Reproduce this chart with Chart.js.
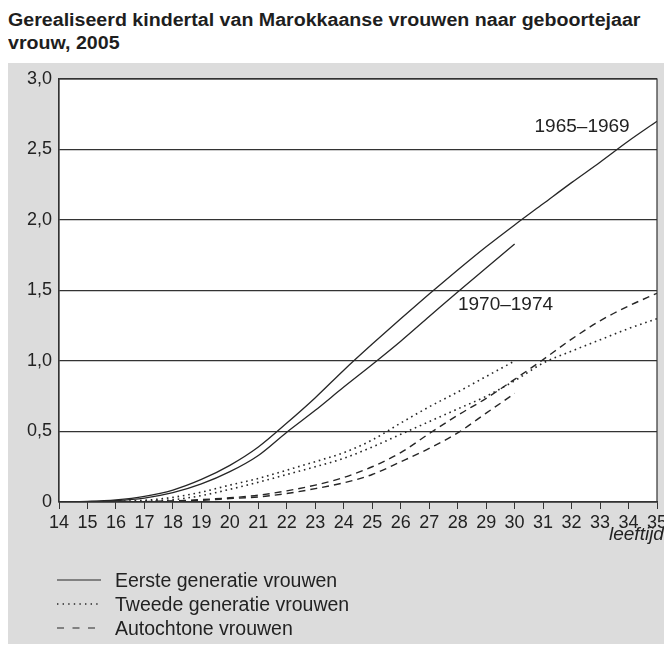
<!DOCTYPE html>
<html>
<head>
<meta charset="utf-8">
<script src="https://cdn.jsdelivr.net/npm/chart.js@4.4.1/dist/chart.umd.min.js"></script>
<style>
  html, body { margin: 0; padding: 0; background: #fff; overflow: hidden; width: 664px; height: 646px; }
  #title { position: absolute; left: 8px; top: 9px; font: bold 18px "Liberation Sans", Arial, sans-serif; line-height: 23px; color: #1e1e1e; white-space: nowrap; transform: scaleX(1.09); transform-origin: 0 0; }
  #panel { position: absolute; left: 8px; top: 63px; width: 700px; height: 581px; background: #dcdcdc; }
  #wrap { position: absolute; left: 0; top: 0; width: 700px; height: 646px; }
  #xlabel { position: absolute; left: 609px; top: 523px; font: italic 19px "Liberation Sans", Arial, sans-serif; color: #222; white-space: nowrap; }
  #legend { position: absolute; left: 57px; top: 568px; font: 19.5px "Liberation Sans", Arial, sans-serif; color: #222; }
  .row { height: 24px; display: flex; align-items: center; white-space: nowrap; }
  .row svg { width: 44px; height: 6px; margin-right: 14px; flex: none; }
</style>
</head>
<body>
<div id="title">Gerealiseerd kindertal van Marokkaanse vrouwen naar geboortejaar<br>vrouw, 2005</div>
<div id="panel"></div>
<div id="wrap"><canvas id="c" width="700" height="646"></canvas></div>
<div id="xlabel">leeftijd</div>
<div id="legend"></div>
<script>
// ---- data ----
const ages = [14,15,16,17,18,19,20,21,22,23,24,25,26,27,28,29,30,31,32,33,34,35];
// Eerste generatie vrouwen
const eerste6569 = [0,0.004,0.015,0.04,0.085,0.16,0.26,0.39,0.56,0.74,0.935,1.12,1.30,1.475,1.645,1.81,1.965,2.115,2.265,2.41,2.56,2.70];
const eerste7074 = [0,0.003,0.01,0.028,0.066,0.128,0.215,0.33,0.495,0.65,0.815,0.975,1.14,1.315,1.49,1.66,1.83];
// Tweede generatie vrouwen
const tweede6569 = [0,0,0.002,0.006,0.016,0.045,0.09,0.14,0.195,0.25,0.31,0.39,0.48,0.57,0.66,0.75,0.86,0.985,1.07,1.15,1.23,1.30];
const tweede7074 = [0,0,0.004,0.012,0.033,0.07,0.12,0.167,0.226,0.286,0.35,0.44,0.56,0.675,0.78,0.89,1.0];
// Autochtone vrouwen
const autochtoon6569 = [0,0,0,0.003,0.007,0.017,0.03,0.048,0.079,0.12,0.174,0.25,0.35,0.485,0.615,0.735,0.87,1.01,1.155,1.285,1.39,1.48];
const autochtoon7074 = [0,0,0,0.002,0.006,0.012,0.024,0.036,0.06,0.095,0.136,0.195,0.285,0.38,0.49,0.63,0.77];

const yTickLabels = ['0','0,5','1,0','1,5','2,0','2,5','3,0'];
const legendLabels = ['Eerste generatie vrouwen','Tweede generatie vrouwen','Autochtone vrouwen'];
const cohortLabels = ['1965–1969','1970–1974'];

// ---- styles ----
const ink = '#262626';
const lineStyles = [
  { dash: [], width: 1.3, svgDash: '' },
  { dash: [1.6, 3.8], width: 1.6, svgDash: '1.4 4.2' },
  { dash: [7, 5], width: 1.4, svgDash: '7 8.5' }
];

function pts(vals) { return vals.map((v, i) => ({ x: ages[i], y: v })); }
function ds(vals, style) {
  return {
    data: pts(vals), borderColor: ink, borderWidth: style.width, borderDash: style.dash,
    pointRadius: 0, fill: false, cubicInterpolationMode: 'monotone'
  };
}

const datasets = [
  ds(eerste6569, lineStyles[0]), ds(eerste7074, lineStyles[0]),
  ds(tweede6569, lineStyles[1]), ds(tweede7074, lineStyles[1]),
  ds(autochtoon6569, lineStyles[2]), ds(autochtoon7074, lineStyles[2])
];

const plotDeco = {
  id: 'plotDeco',
  beforeDraw(chart) {
    const { ctx, chartArea: a } = chart;
    ctx.save();
    ctx.fillStyle = '#ffffff';
    ctx.fillRect(a.left, a.top, a.right - a.left, a.bottom - a.top);
    ctx.restore();
  },
  afterDatasetsDraw(chart, args, opts) {
    const { ctx, chartArea: a, scales } = chart;
    ctx.save();
    ctx.strokeStyle = '#333';
    ctx.lineWidth = 1.2;
    ctx.strokeRect(a.left, a.top, a.right - a.left, a.bottom - a.top);
    ctx.fillStyle = '#222';
    ctx.font = '19px "Liberation Sans", Arial, sans-serif';
    ctx.textAlign = 'center';
    ctx.textBaseline = 'middle';
    opts.labels.forEach((l, i) => {
      ctx.fillText(cohortLabels[i], scales.x.getPixelForValue(l[0]), scales.y.getPixelForValue(l[1]));
    });
    ctx.restore();
  }
};

new Chart(document.getElementById('c'), {
  type: 'line',
  data: { datasets },
  options: {
    responsive: false,
    animation: false,
    devicePixelRatio: 1,
    layout: { padding: { left: 0, top: 79, right: 43, bottom: 114 } },
    plugins: {
      legend: { display: false },
      tooltip: { enabled: false },
      plotDeco: { labels: [[32.37, 2.66], [29.68, 1.40]] }
    },
    scales: {
      x: {
        type: 'linear', min: 14, max: 35,
        ticks: { stepSize: 1, autoSkip: false, maxRotation: 0, padding: 3, color: '#222',
                 font: { size: 18, family: '"Liberation Sans", Arial, sans-serif' } },
        grid: { display: true, drawOnChartArea: false, drawTicks: true, tickLength: 7, color: '#333', lineWidth: 1 },
        border: { display: true, color: '#333', width: 1.2 },
        afterFit(s) { s.height = 30; }
      },
      y: {
        min: 0, max: 3,
        ticks: { stepSize: 0.5, padding: 7, color: '#222',
                 font: { size: 18, family: '"Liberation Sans", Arial, sans-serif' },
                 callback: (v, i) => yTickLabels[i] },
        grid: { color: '#333', lineWidth: 1.2, drawTicks: false },
        border: { display: true, color: '#333', width: 1.2 },
        afterFit(s) { s.width = 59; }
      }
    }
  },
  plugins: [plotDeco]
});

// HTML legend
const legendEl = document.getElementById('legend');
legendLabels.forEach((txt, i) => {
  const st = lineStyles[i];
  const row = document.createElement('div');
  row.className = 'row';
  row.innerHTML = '<svg viewBox="0 0 44 6"><line x1="0" y1="3" x2="44" y2="3" stroke="' + ink +
    '" stroke-width="' + (i === 1 ? 1.3 : 1.2) + '"' + (st.svgDash ? ' stroke-dasharray="' + st.svgDash + '"' : '') +
    '/></svg><span></span>';
  row.querySelector('span').textContent = txt;
  legendEl.appendChild(row);
});
</script>
</body>
</html>
